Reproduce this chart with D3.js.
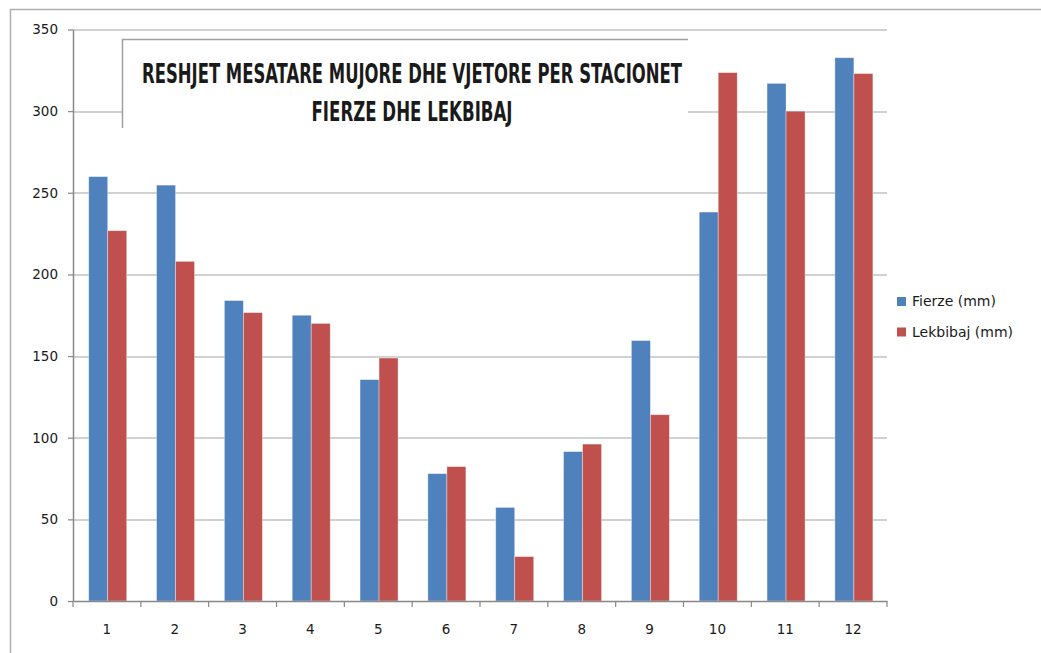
<!DOCTYPE html>
<html>
<head>
<meta charset="utf-8">
<script src="https://cdn.jsdelivr.net/npm/d3@7"></script>
<style>
  body { margin: 0; background: #fff; }
  svg { display: block; }
  text { font-family: "DejaVu Sans", sans-serif; fill: #1a1a1a; }
</style>
</head>
<body>
<script>
// monthly mean precipitation, Fierze and Lekbibaj
var months = ["1", "2", "3", "4", "5", "6", "7", "8", "9", "10", "11", "12"];
var fierze = [259.9, 254.7, 184, 175, 135.6, 78, 57.3, 91.5, 159.5, 238.2, 317, 332.7];
var lekbibaj = [226.8, 208, 176.6, 170, 148.8, 82.3, 27.2, 96.1, 114.1, 323.6, 300, 323];
var seriesNames = ["Fierze (mm)", "Lekbibaj (mm)"];
var colors = ["#4F81BD", "#C0504D"];
var yTicks = [0, 50, 100, 150, 200, 250, 300, 350];
var titleLines = ["RESHJET MESATARE MUJORE DHE VJETORE PER STACIONET", "FIERZE DHE LEKBIBAJ"];

var svgWidth = 1041;
var svgHeight = 653;
var margin = { top: 29.5, right: 154, bottom: 52, left: 73 };
var width = 887 - margin.left;
var height = 601 - margin.top;

var svg = d3.select("body")
  .append("svg")
  .attr("width", svgWidth)
  .attr("height", svgHeight);

// outer chart border (cropped at right and bottom)
svg.append("path")
  .attr("d", "M10.5," + svgHeight + "V9.5H" + svgWidth)
  .attr("fill", "none")
  .attr("stroke", "#b0b0b0")
  .attr("stroke-width", 1.5);

var chart = svg.append("g")
  .attr("transform", "translate(" + margin.left + "," + margin.top + ")");

var x0 = d3.scaleBand().domain(months).range([0, width]).padding(0);
var pairWidth = 38;
var x1 = d3.scaleBand().domain([0, 1]).range([0, pairWidth]);
var y = d3.scaleLinear().domain([0, 350]).range([height, 0]);

// gridlines
chart.append("g")
  .selectAll("line")
  .data(yTicks.slice(1))
  .enter()
  .append("line")
  .attr("x1", 0)
  .attr("x2", width)
  .attr("y1", function(d) { return Math.round(y(d)) + 0.5; })
  .attr("y2", function(d) { return Math.round(y(d)) + 0.5; })
  .attr("stroke", "#a3a3a3")
  .attr("stroke-width", 1);

// bars
var table = months.map(function(m, i) {
  return { month: m, values: [fierze[i], lekbibaj[i]] };
});

var groups = chart.selectAll(".month")
  .data(table)
  .enter()
  .append("g")
  .attr("transform", function(d) {
    return "translate(" + (x0(d.month) + (x0.bandwidth() - pairWidth) / 2 + 0.8) + ",0)";
  });

groups.selectAll("rect")
  .data(function(d) { return d.values; })
  .enter()
  .append("rect")
  .attr("x", function(d, i) { return x1(i); })
  .attr("width", x1.bandwidth())
  .attr("y", function(d) { return y(d); })
  .attr("height", function(d) { return height - y(d); })
  .attr("fill", function(d, i) { return colors[i]; })
  .attr("stroke", "rgba(255,255,255,0.45)")
  .attr("stroke-width", 0.8);

// y axis
var leftAxis = d3.axisLeft(y).tickValues(yTicks).tickSize(5).tickSizeOuter(0).tickPadding(10);
var yAxis = chart.append("g").call(leftAxis);
yAxis.select(".domain").attr("stroke", "#888").attr("stroke-width", 1.5);
yAxis.selectAll(".tick line").attr("stroke", "#888").attr("stroke-width", 1.2);
yAxis.selectAll(".tick text")
  .style("font-family", "DejaVu Sans, sans-serif")
  .style("font-size", "13.5px")
  .attr("fill", "#222");

// x axis: labels centered, tick marks at category boundaries
var bottomAxis = d3.axisBottom(x0).tickSize(0).tickPadding(23);
var xAxis = chart.append("g")
  .attr("transform", "translate(0," + height + ")")
  .call(bottomAxis);
xAxis.select(".domain").attr("stroke", "#888").attr("stroke-width", 1.5);
xAxis.selectAll(".tick text")
  .style("font-family", "DejaVu Sans, sans-serif")
  .style("font-size", "13.5px")
  .attr("fill", "#222");

var bounds = months.map(function(m) { return x0(m); }).concat([width]);
xAxis.selectAll(".bound")
  .data(bounds)
  .enter()
  .append("line")
  .attr("x1", function(d) { return d; })
  .attr("x2", function(d) { return d; })
  .attr("y1", 0)
  .attr("y2", 6)
  .attr("stroke", "#888")
  .attr("stroke-width", 1.2);

// title box
svg.append("rect")
  .attr("x", 122)
  .attr("y", 39.5)
  .attr("width", 566)
  .attr("height", 88)
  .attr("fill", "#fff");
svg.append("path")
  .attr("d", "M122.5,128V39.5H688")
  .attr("fill", "none")
  .attr("stroke", "#a0a0a0")
  .attr("stroke-width", 1.5);

svg.selectAll(".title")
  .data(titleLines)
  .enter()
  .append("text")
  .attr("x", 412)
  .attr("y", function(d, i) { return 83 + i * 38; })
  .attr("text-anchor", "middle")
  .attr("textLength", function(d, i) { return i === 0 ? 540 : 201; })
  .attr("lengthAdjust", "spacingAndGlyphs")
  .style("font-family", "Liberation Sans Narrow, DejaVu Sans Condensed, sans-serif")
  .style("font-weight", "bold")
  .style("font-size", "26px")
  .attr("fill", "#000")
  .text(function(d) { return d; });

// legend
var legend = svg.append("g").attr("transform", "translate(897,297)");
var items = legend.selectAll("g")
  .data(seriesNames)
  .enter()
  .append("g")
  .attr("transform", function(d, i) { return "translate(0," + i * 30.5 + ")"; });
items.append("rect")
  .attr("width", 9)
  .attr("height", 9)
  .attr("fill", function(d, i) { return colors[i]; });
items.append("text")
  .attr("x", 15)
  .attr("y", 4.5)
  .attr("dy", "0.35em")
  .style("font-size", "14px")
  .text(function(d) { return d; });
</script>
</body>
</html>
